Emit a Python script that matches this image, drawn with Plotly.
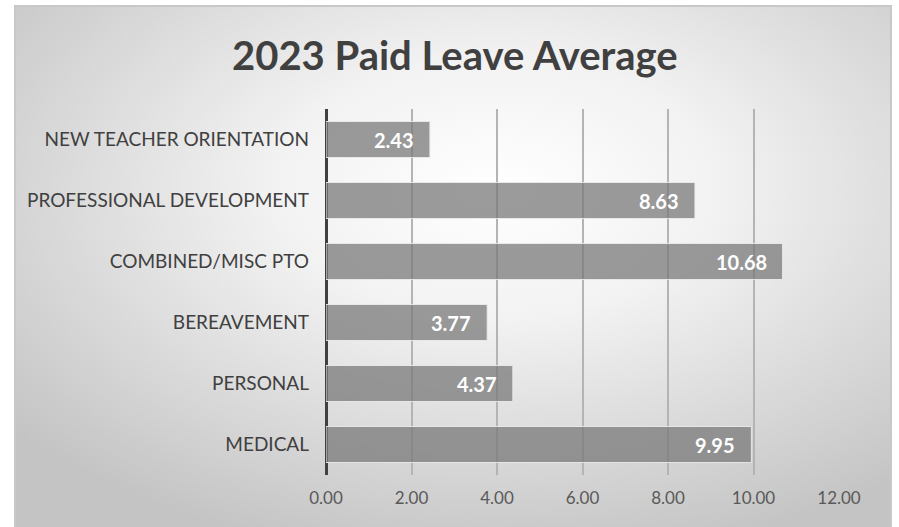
import base64
import plotly.graph_objects as go

# ---- data ----
categories = ["MEDICAL", "PERSONAL", "BEREAVEMENT", "COMBINED/MISC PTO",
              "PROFESSIONAL DEVELOPMENT", "NEW TEACHER ORIENTATION"]
values = [9.95, 4.37, 3.77, 10.68, 8.63, 2.43]
tick_vals = [0, 2, 4, 6, 8, 10, 12]
tick_text = ["0.00", "2.00", "4.00", "6.00", "8.00", "10.00", "12.00"]
title_text = "2023 Paid Leave Average"

# ---- layout geometry (pixels) ----
WIDTH, HEIGHT = 899, 527
L, R, T, B = 326, 60, 109, 52
PW = WIDTH - L - R
PH = HEIGHT - T - B

def px_x(p):
    return (p - L) / PW

def px_y(p):
    return (HEIGHT - B - p) / PH

FONT = "Lato"

svg = (
    '<svg xmlns="http://www.w3.org/2000/svg" width="876" height="522" '
    'viewBox="0 0 876 522" preserveAspectRatio="none">'
    '<defs><radialGradient id="g" cx="0.55" cy="0.35" r="0.72">'
    '<stop offset="0" stop-color="#ffffff"/>'
    '<stop offset="0.35" stop-color="#f2f2f2"/>'
    '<stop offset="1" stop-color="#c4c4c4"/>'
    '</radialGradient></defs>'
    '<rect x="0" y="0" width="876" height="522" fill="url(#g)"/></svg>'
)
src = "data:image/svg+xml;base64," + base64.b64encode(svg.encode()).decode()

fig = go.Figure()
fig.add_trace(go.Bar(
    x=values, y=categories, orientation="h",
    marker=dict(color="rgba(122,122,122,0.75)",
                line=dict(color="rgba(235,235,235,0.9)", width=1)),
    width=0.59, hoverinfo="x+y",
))

for v, c in zip(values, categories):
    fig.add_annotation(
        x=v, y=c, xref="x", yref="y", text="<b>%.2f</b>" % v,
        showarrow=False, xanchor="right", yanchor="middle", xshift=-14,
        font=dict(family=FONT, size=20, color="white"),
    )

fig.add_annotation(
    x=px_x(455), y=px_y(55), xref="paper", yref="paper",
    text="<b>%s</b>" % title_text, showarrow=False,
    xanchor="center", yanchor="middle",
    font=dict(family=FONT, size=40, color="#404040"),
)

fig.add_layout_image(
    source=src, xref="paper", yref="paper",
    x=px_x(15), y=px_y(6), sizex=px_x(891) - px_x(15), sizey=px_y(6) - px_y(528),
    xanchor="left", yanchor="top", sizing="stretch", layer="below",
)
fig.add_shape(
    type="rect", xref="paper", yref="paper",
    x0=px_x(15), x1=px_x(891), y0=px_y(530), y1=px_y(6),
    line=dict(color="#c8c8c8", width=2), fillcolor="rgba(0,0,0,0)", layer="above",
)

fig.update_layout(
    width=WIDTH, height=HEIGHT,
    margin=dict(l=L, r=R, t=T, b=B, pad=0),
    paper_bgcolor="white", plot_bgcolor="rgba(0,0,0,0)",
    showlegend=False,
    font=dict(family=FONT, color="#404040"),
    xaxis=dict(range=[0, 12], tickvals=tick_vals, ticktext=tick_text,
               showgrid=True, gridcolor="#b4b4b4", gridwidth=1.5,
               zeroline=True, zerolinecolor="#404040", zerolinewidth=3,
               showline=False, ticks="", ticklabelstandoff=11,
               tickfont=dict(family=FONT, size=17, color="#595959"),
               fixedrange=True),
    yaxis=dict(showgrid=False, zeroline=False, showline=False, ticks="",
               ticklabelstandoff=16,
               tickfont=dict(family=FONT, size=19, color="#404040"),
               fixedrange=True),
    bargap=0.41,
)

fig.write_html("out.html")
